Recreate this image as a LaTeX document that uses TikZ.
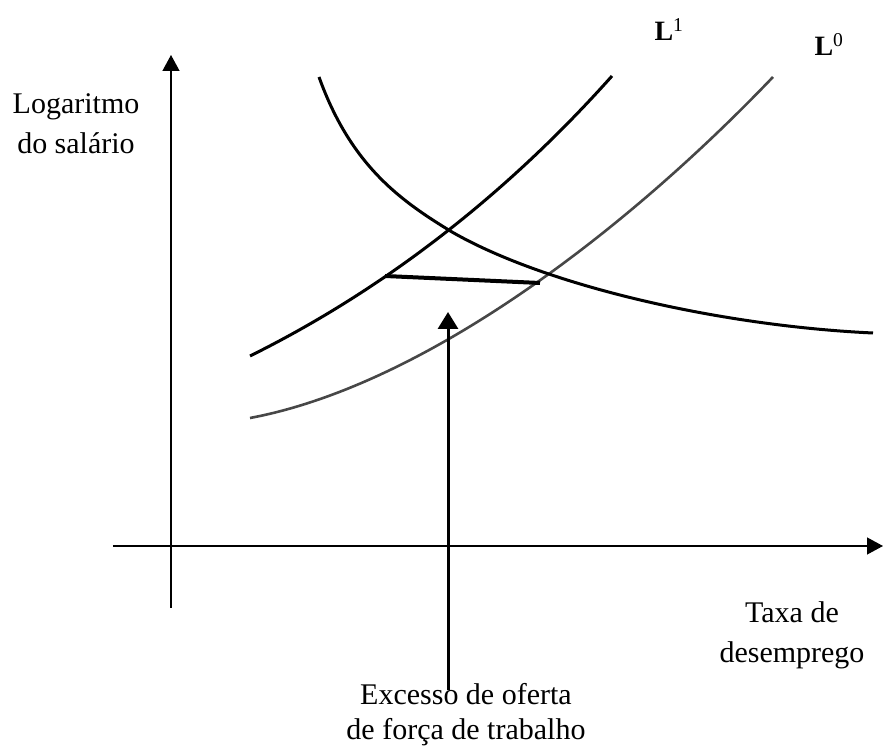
\documentclass[tikz,border=0pt]{standalone}
\usepackage{fontspec}
\setmainfont{Liberation Serif}
\usepackage{tikz}
\usetikzlibrary{arrows.meta}

\begin{document}
\begin{tikzpicture}[x=50pt, y=50pt,
    axis/.style={line width=1.3pt, -{Triangle[length=16pt,width=17pt]}},
    curve/.style={line width=3pt, line join=round},
    label/.style={font=\fontsize{30}{40}\selectfont, align=center}]
        \useasboundingbox (-3.42,-4.0) rectangle (14.24,10.92);

        % Axes
        \draw[axis] (0,-1.24) -- (0,9.82);
        \draw[axis] (-1.16,0) -- (14.24,0);
        \node[label] (ylab) at (-1.9,8.45) {Logaritmo\\do salário};
        \node[label] (xlab) at (12.42,-1.78) {Taxa de\\desemprego};

        % Curve L^1
        \draw[curve] (1.58,3.80) .. controls (4.0,5.0) and (6.5,6.8) .. (8.82,9.40);
        \node[font=\fontsize{28}{28}\selectfont] (lone) at (9.96,10.33) {\textbf{L}\textsuperscript{1}};

        % Curve L^0
        \draw[curve, line width=2.6pt, black!72] (1.58,2.56) .. controls (5.0,3.2) and (9.0,6.2) .. (12.04,9.38);
        \node[font=\fontsize{28}{28}\selectfont] (lzero) at (13.16,10.03) {\textbf{L}\textsuperscript{0}};

        % Decreasing curve
        \draw[curve] (2.96,9.38) .. controls (3.6,7.6) and (4.6,6.9) .. (5.62,6.28)
            .. controls (7.5,5.2) and (11,4.4) .. (14.04,4.26);

        % Gap between the curves
        \coordinate (gapl) at (4.28,5.40);
        \coordinate (gapr) at (7.38,5.26);
        \draw[line width=4pt] (gapl) -- (gapr);

        % Excess supply
        \node[label, font=\fontsize{30}{35}\selectfont] (excess) at (5.9,-3.38) {Excesso de oferta\\de força de trabalho};
        \coordinate (tip) at (5.54,4.68);
        \draw[line width=3pt, -{Triangle[length=17pt,width=20pt]}] ([yshift=-10pt]excess.north -| tip) -- (tip);
    \end{tikzpicture}
\end{document}
